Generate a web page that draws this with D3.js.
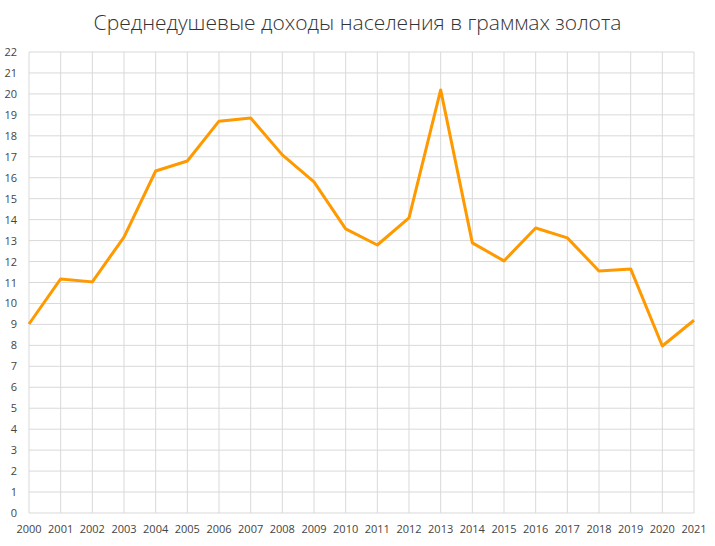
<!DOCTYPE html>
<html>
<head>
<meta charset="utf-8">
<script src="https://cdn.jsdelivr.net/npm/d3@7"></script>
<style>
  body { margin: 0; background: #fff; font-family: "Open Sans", "Noto Sans", sans-serif; }
</style>
</head>
<body>
<svg id="chart" width="715" height="546"></svg>
<script>
const TITLE = "Среднедушевые доходы населения в граммах золота";
const years = [2000,2001,2002,2003,2004,2005,2006,2007,2008,2009,2010,2011,2012,2013,2014,2015,2016,2017,2018,2019,2020,2021];
const values = [9.02,11.17,11.03,13.17,16.32,16.8,18.7,18.85,17.09,15.8,13.56,12.79,14.08,20.19,12.89,12.03,13.6,13.13,11.55,11.65,7.97,9.2];
const yTicks = d3.range(0, 23);

const svg = d3.select("#chart");
const margin = { top: 52, right: 21, bottom: 33, left: 29 };
const W = 715, H = 546;

const x = d3.scaleLinear().domain([2000, 2021]).range([margin.left, W - margin.right]);
const y = d3.scaleLinear().domain([0, 22]).range([H - margin.bottom, margin.top]);

svg.append("text")
  .attr("x", W / 2).attr("y", 30)
  .attr("text-anchor", "middle")
  .style("font-size", "21px").style("font-weight", 300).style("fill", "#333")
  .text(TITLE);

// gridlines
svg.append("g").selectAll("line.h").data(yTicks).join("line")
  .attr("x1", margin.left).attr("x2", W - margin.right)
  .attr("y1", d => y(d)).attr("y2", d => y(d))
  .attr("stroke", "#d9d9d9");
svg.append("g").selectAll("line.v").data(years).join("line")
  .attr("x1", d => x(d)).attr("x2", d => x(d))
  .attr("y1", margin.top).attr("y2", H - margin.bottom)
  .attr("stroke", "#d9d9d9");

// tick labels
svg.append("g").selectAll("text").data(yTicks).join("text")
  .attr("x", margin.left - 12).attr("y", d => y(d) + 4)
  .attr("text-anchor", "end")
  .style("font-size", "11px").style("fill", "#444")
  .text(d => d);
svg.append("g").selectAll("text").data(years).join("text")
  .attr("x", d => x(d)).attr("y", H - margin.bottom + 20)
  .attr("text-anchor", "middle")
  .style("font-size", "11px").style("fill", "#444")
  .text(d => d);

const line = d3.line().x((d, i) => x(years[i])).y(d => y(d));
svg.append("path")
  .datum(values)
  .attr("d", line)
  .attr("fill", "none")
  .attr("stroke", "#ff9900")
  .attr("stroke-width", 3)
  .attr("stroke-linejoin", "round");
</script>
</body>
</html>
